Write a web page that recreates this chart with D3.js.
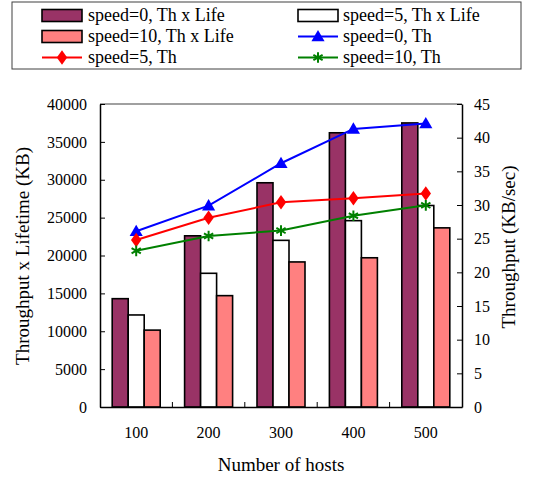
<!DOCTYPE html>
<html><head><meta charset="utf-8">
<script src="https://cdn.jsdelivr.net/npm/d3@7"></script>
<style>body{margin:0;background:#fff}svg{display:block}</style>
</head><body><svg id="c" width="535" height="479"></svg>
<script>
const hosts = ["100","200","300","400","500"];
const barSeries = ["speed=0, Th x Life","speed=5, Th x Life","speed=10, Th x Life"];
const bar0 = [14300, 22600, 29600, 36200, 37500];
const bar5 = [12150, 17650, 22000, 24600, 26600];
const bar10 = [10150, 14700, 19150, 19700, 23650];
const lineSeries = ["speed=0, Th","speed=5, Th","speed=10, Th"];
const th0 = [26.1, 29.9, 36.2, 41.3, 42.1];
const th5 = [24.8, 28.1, 30.4, 31.0, 31.7];
const th10 = [23.2, 25.4, 26.2, 28.4, 29.95];
const leftTicks = [0,5000,10000,15000,20000,25000,30000,35000,40000];
const rightTicks = [0,5,10,15,20,25,30,35,40,45];

const FONT = '"Liberation Serif","Times New Roman",serif';
const svg = d3.select("#c");
const L=100,R=462,T=104,B=407;
const x = d3.scaleBand().domain(hosts).range([L,R]).paddingInner(0.337).paddingOuter(0.1685);
const xs = d3.scaleBand().domain([0,1,2]).range([0,x.bandwidth()]);
const yL = d3.scaleLinear().domain([0,40000]).range([B,T]);
const yR = d3.scaleLinear().domain([0,45]).range([B,T]);
const bars = [bar0,bar5,bar10];
const barColors = ["#993366","#ffffff","#ff8080"];
const lines = [th0,th5,th10];
const lineColors = ["#0000ff","#ff0000","#008000"];
const cx = d => x(d)+x.bandwidth()/2;

// frame top
svg.append("line").attr("x1",L).attr("x2",R).attr("y1",T).attr("y2",T).attr("stroke","#808080").attr("stroke-width",1.5);

// bars
bars.forEach((vals,i)=>{
  svg.append("g").selectAll("rect").data(vals).join("rect")
    .attr("x",(d,j)=>x(hosts[j])+xs(i)).attr("width",xs.bandwidth())
    .attr("y",d=>yL(d)).attr("height",d=>B-yL(d))
    .attr("fill",barColors[i]).attr("stroke","#000").attr("stroke-width",1.6);
});

// axes
const gl = svg.append("g").attr("transform",`translate(${L},0)`)
  .call(d3.axisLeft(yL).tickValues(leftTicks).tickSizeInner(-5).tickSizeOuter(0).tickPadding(13).tickFormat(d3.format("d")));
const gr = svg.append("g").attr("transform",`translate(${R},0)`)
  .call(d3.axisRight(yR).tickValues(rightTicks).tickSizeInner(-5).tickSizeOuter(0).tickPadding(12));
const gb = svg.append("g").attr("transform",`translate(0,${B})`)
  .call(d3.axisBottom(x).tickSize(0).tickPadding(20));
[gl,gr,gb].forEach(g=>{
  g.attr("font-family",FONT).attr("font-size",16);
  g.select(".domain").attr("stroke","#000").attr("stroke-width",1.5);
  g.selectAll(".tick line").attr("stroke","#000").attr("stroke-width",1);
  g.selectAll("text").attr("fill","#000");
});
// bottom separators between groups
svg.append("g").selectAll("line").data(hosts.slice(1)).join("line")
  .attr("x1",d=>x(d)-x.step()*x.paddingInner()/2).attr("x2",d=>x(d)-x.step()*x.paddingInner()/2)
  .attr("y1",B).attr("y2",B-5).attr("stroke","#000");

// lines
function drawMarker(g,type,color){
  if(type===0) g.append("path").attr("d",d3.symbol(d3.symbolTriangle,75)()).attr("fill",color).attr("transform","translate(0,1)");
  else if(type===1) g.append("path").attr("d",d3.symbol(d3.symbolDiamond,60)()).attr("fill",color).attr("transform","scale(1.25,1)");
  else g.append("path").attr("d",d3.symbol(d3.symbolAsterisk,80)()).attr("fill","none").attr("stroke",color).attr("stroke-width",2);
}
lines.forEach((vals,i)=>{
  const line = d3.line().x((d,j)=>cx(hosts[j])).y(d=>yR(d));
  svg.append("path").datum(vals).attr("d",line).attr("fill","none").attr("stroke",lineColors[i]).attr("stroke-width",2);
  vals.forEach((v,j)=>{
    const g = svg.append("g").attr("transform",`translate(${cx(hosts[j])},${yR(v)})`);
    drawMarker(g,i,lineColors[i]);
  });
});

// axis titles
const title = (s)=>s.attr("font-family",FONT).attr("font-size",19).attr("fill","#000");
svg.append("text").attr("transform","translate(29,256) rotate(-90)").attr("text-anchor","middle").call(title).text("Throughput x Lifetime (KB)");
svg.append("text").attr("transform","translate(515,247) rotate(-90)").attr("text-anchor","middle").call(title).text("Throughput (KB/sec)");
svg.append("text").attr("x",281).attr("y",471).attr("text-anchor","middle").call(title).text("Number of hosts");

// legend
svg.append("rect").attr("x",12).attr("y",2).attr("width",509).attr("height",67).attr("fill","#fff").attr("stroke","#404040").attr("stroke-width",1);
const legItems = [
  {t:barSeries[0],k:"bar",c:barColors[0]},{t:barSeries[1],k:"bar",c:barColors[1]},
  {t:barSeries[2],k:"bar",c:barColors[2]},{t:lineSeries[0],k:0,c:lineColors[0]},
  {t:lineSeries[1],k:1,c:lineColors[1]},{t:lineSeries[2],k:2,c:lineColors[2]}
];
legItems.forEach((it,i)=>{
  const col=i%2,row=Math.floor(i/2);
  const sx = col? 298:42, sy = 15.5+row*21;
  const g = svg.append("g").attr("transform",`translate(${sx},${sy})`);
  if(it.k==="bar") g.append("rect").attr("x",0).attr("y",-6).attr("width",40).attr("height",12).attr("fill",it.c).attr("stroke","#000").attr("stroke-width",1.6);
  else {
    g.append("line").attr("x1",0).attr("x2",40).attr("stroke",it.c).attr("stroke-width",2);
    drawMarker(g.append("g").attr("transform","translate(20,0)"),it.k,it.c);
  }
  g.append("text").attr("x",col?45:46).attr("y",5.5).attr("font-family",FONT).attr("font-size",18).attr("fill","#000").text(it.t);
});
</script></body></html>
